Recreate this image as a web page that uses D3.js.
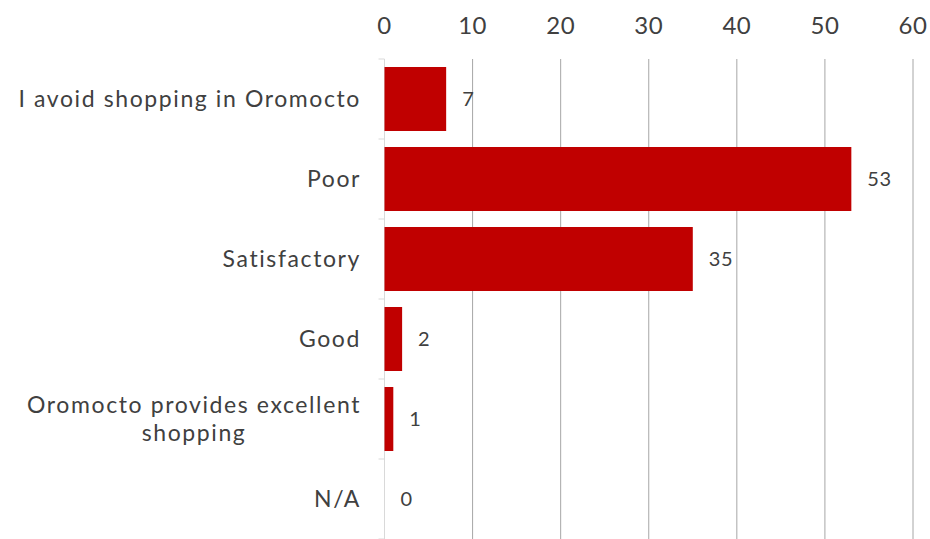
<html>
<head>
  <script src="https://d3js.org/d3.v7.min.js"></script>
  <style>
    body { margin: 0; background: #fff; }
    text { font-family: 'Century Gothic', 'Lato', sans-serif; fill: #404040; }
  </style>
</head>
<body>
  <svg width="930" height="539"></svg>
  <script>
    var categories = ["I avoid shopping in Oromocto", "Poor", "Satisfactory", "Good",
      "Oromocto provides excellent shopping", "N/A"];
    var labelLines = [["I avoid shopping in Oromocto"], ["Poor"], ["Satisfactory"], ["Good"],
      ["Oromocto provides excellent", "shopping"], ["N/A"]];
    var counts = [7, 53, 35, 2, 1, 0];
    var ticks = [0, 10, 20, 30, 40, 50, 60];

    var svg = d3.select("svg");
    var plotL = 384.5, plotR = 913, plotT = 59, plotB = 539;

    var x = d3.scaleLinear().domain([0, 60]).range([plotL, plotR]);
    var y = d3.scaleBand().domain(categories).range([plotT, plotB]).paddingInner(0.2).paddingOuter(0.1);

    // gridlines
    svg.append("g")
      .selectAll("line")
      .data(ticks.slice(1))
      .enter()
      .append("line")
      .attr("x1", d => x(d)).attr("x2", d => x(d))
      .attr("y1", plotT).attr("y2", plotB)
      .style("stroke", "#a6a6a6")
      .style("stroke-width", "1px");

    // top axis labels
    svg.append("g")
      .selectAll("text")
      .data(ticks)
      .enter()
      .append("text")
      .attr("x", d => x(d))
      .attr("y", 34)
      .attr("text-anchor", "middle")
      .style("font-size", "24px")
      .style("letter-spacing", "0.5px")
      .text(d => d);

    // category axis line + ticks
    svg.append("line")
      .attr("x1", plotL).attr("x2", plotL)
      .attr("y1", plotT).attr("y2", plotB)
      .style("stroke", "#d9d9d9");
    var step = y.step();
    svg.append("g")
      .selectAll("line")
      .data(d3.range(categories.length + 1))
      .enter()
      .append("line")
      .attr("x1", plotL - 6).attr("x2", plotL)
      .attr("y1", i => plotT + i * step).attr("y2", i => plotT + i * step)
      .style("stroke", "#d9d9d9");

    // bars
    svg.append("g")
      .selectAll("rect")
      .data(counts)
      .enter()
      .append("rect")
      .attr("x", x(0))
      .attr("y", (d, i) => y(categories[i]))
      .attr("width", d => x(d) - x(0))
      .attr("height", y.bandwidth())
      .style("fill", "#c00000");

    // value labels
    svg.append("g")
      .selectAll("text")
      .data(counts)
      .enter()
      .append("text")
      .attr("x", d => x(d) + 16)
      .attr("y", (d, i) => y(categories[i]) + y.bandwidth() / 2)
      .attr("dy", "0.35em")
      .style("font-size", "20px")
      .style("letter-spacing", "0.5px")
      .text(d => d);

    // category labels (multi-line ones are centred inside a right-aligned block)
    var labelRight = 361;
    svg.append("g")
      .selectAll("g")
      .data(labelLines)
      .enter()
      .append("g")
      .each(function (lines, i) {
        var g = d3.select(this);
        var cy = y(categories[i]) + y.bandwidth() / 2;
        var texts = lines.map(function (s, j) {
          return g.append("text")
            .attr("y", cy + (j - (lines.length - 1) / 2) * 28)
            .attr("dy", "0.35em")
            .style("font-size", "23px")
            .style("letter-spacing", "1.6px")
            .text(s);
        });
        var w = d3.max(texts, t => t.node().getComputedTextLength());
        texts.forEach(t => t.attr("text-anchor", "middle").attr("x", labelRight - w / 2));
      });
  </script>
</body>
</html>
